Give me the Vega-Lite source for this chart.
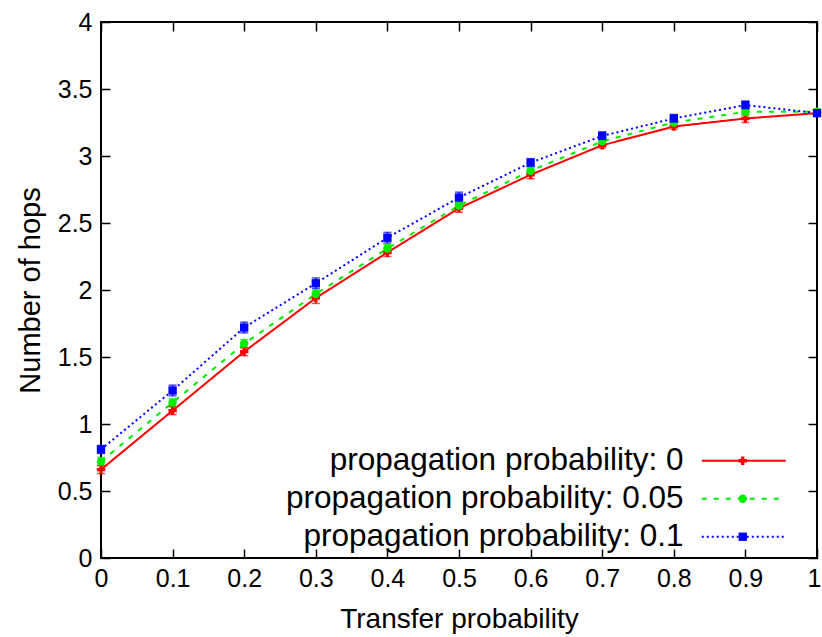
{
  "$schema": "https://vega.github.io/schema/vega-lite/v6.json",
  "width": 716,
  "height": 536,
  "autosize": {"type": "none"},
  "padding": {"left": 101, "top": 22, "right": 5, "bottom": 79},
  "config": {
    "view": {"stroke": "black", "strokeWidth": 2},
    "font": "Liberation Sans",
    "axis": {"grid": false, "domain": false, "tickColor": "black", "tickWidth": 1.5, "labelColor": "black", "titleColor": "black", "titleFontWeight": "normal"}
  },
  "data": {
    "values": [
      {"x": 0.0, "y": 0.66, "lo": 0.63, "hi": 0.69, "s": "propagation probability: 0"},
      {"x": 0.1, "y": 1.10, "lo": 1.07, "hi": 1.13, "s": "propagation probability: 0"},
      {"x": 0.2, "y": 1.54, "lo": 1.51, "hi": 1.57, "s": "propagation probability: 0"},
      {"x": 0.3, "y": 1.94, "lo": 1.90, "hi": 1.97, "s": "propagation probability: 0"},
      {"x": 0.4, "y": 2.28, "lo": 2.25, "hi": 2.31, "s": "propagation probability: 0"},
      {"x": 0.5, "y": 2.61, "lo": 2.58, "hi": 2.64, "s": "propagation probability: 0"},
      {"x": 0.6, "y": 2.86, "lo": 2.83, "hi": 2.89, "s": "propagation probability: 0"},
      {"x": 0.7, "y": 3.08, "lo": 3.06, "hi": 3.11, "s": "propagation probability: 0"},
      {"x": 0.8, "y": 3.22, "lo": 3.20, "hi": 3.25, "s": "propagation probability: 0"},
      {"x": 0.9, "y": 3.28, "lo": 3.25, "hi": 3.31, "s": "propagation probability: 0"},
      {"x": 1.0, "y": 3.32, "lo": 3.30, "hi": 3.34, "s": "propagation probability: 0"},
      {"x": 0.0, "y": 0.72, "lo": 0.69, "hi": 0.75, "s": "propagation probability: 0.05"},
      {"x": 0.1, "y": 1.16, "lo": 1.13, "hi": 1.19, "s": "propagation probability: 0.05"},
      {"x": 0.2, "y": 1.60, "lo": 1.57, "hi": 1.63, "s": "propagation probability: 0.05"},
      {"x": 0.3, "y": 1.97, "lo": 1.94, "hi": 2.00, "s": "propagation probability: 0.05"},
      {"x": 0.4, "y": 2.31, "lo": 2.28, "hi": 2.34, "s": "propagation probability: 0.05"},
      {"x": 0.5, "y": 2.63, "lo": 2.60, "hi": 2.66, "s": "propagation probability: 0.05"},
      {"x": 0.6, "y": 2.89, "lo": 2.86, "hi": 2.92, "s": "propagation probability: 0.05"},
      {"x": 0.7, "y": 3.11, "lo": 3.08, "hi": 3.14, "s": "propagation probability: 0.05"},
      {"x": 0.8, "y": 3.25, "lo": 3.22, "hi": 3.28, "s": "propagation probability: 0.05"},
      {"x": 0.9, "y": 3.33, "lo": 3.30, "hi": 3.36, "s": "propagation probability: 0.05"},
      {"x": 1.0, "y": 3.33, "lo": 3.31, "hi": 3.35, "s": "propagation probability: 0.05"},
      {"x": 0.0, "y": 0.81, "lo": 0.78, "hi": 0.84, "s": "propagation probability: 0.1"},
      {"x": 0.1, "y": 1.25, "lo": 1.21, "hi": 1.29, "s": "propagation probability: 0.1"},
      {"x": 0.2, "y": 1.72, "lo": 1.68, "hi": 1.76, "s": "propagation probability: 0.1"},
      {"x": 0.3, "y": 2.05, "lo": 2.01, "hi": 2.09, "s": "propagation probability: 0.1"},
      {"x": 0.4, "y": 2.39, "lo": 2.35, "hi": 2.43, "s": "propagation probability: 0.1"},
      {"x": 0.5, "y": 2.69, "lo": 2.65, "hi": 2.73, "s": "propagation probability: 0.1"},
      {"x": 0.6, "y": 2.95, "lo": 2.92, "hi": 2.98, "s": "propagation probability: 0.1"},
      {"x": 0.7, "y": 3.15, "lo": 3.12, "hi": 3.18, "s": "propagation probability: 0.1"},
      {"x": 0.8, "y": 3.28, "lo": 3.25, "hi": 3.31, "s": "propagation probability: 0.1"},
      {"x": 0.9, "y": 3.38, "lo": 3.35, "hi": 3.41, "s": "propagation probability: 0.1"},
      {"x": 1.0, "y": 3.32, "lo": 3.30, "hi": 3.34, "s": "propagation probability: 0.1"}
    ]
  },
  "layer": [
    {
      "mark": {"type": "line", "strokeWidth": 2},
      "encoding": {
        "x": {"field": "x", "type": "quantitative", "scale": {"domain": [0, 1], "nice": false, "zero": false},
          "axis": {"orient": "bottom", "values": [0, 0.1, 0.2, 0.3, 0.4, 0.5, 0.6, 0.7, 0.8, 0.9, 1], "format": "~g", "ticks": false, "labelPadding": 8, "labelFontSize": 25, "title": "Transfer probability", "titleFontSize": 28, "titlePadding": 14, "labelFlush": false,
            "labelOffset": {"condition": {"test": "datum.value == 1", "value": -3}, "value": 0}}},
        "y": {"field": "y", "type": "quantitative", "scale": {"domain": [0, 4], "nice": false},
          "axis": {"orient": "left", "values": [0, 0.5, 1, 1.5, 2, 2.5, 3, 3.5, 4], "format": "~g", "ticks": false, "labelPadding": 9, "labelFontSize": 25, "title": "Number of hops", "titleFontSize": 29, "titlePadding": 12, "labelFlush": false}},
        "color": {"field": "s", "type": "nominal",
          "scale": {"domain": ["propagation probability: 0", "propagation probability: 0.05", "propagation probability: 0.1"], "range": ["#ff0000", "#00ee00", "#0000ff"]},
          "legend": {"orient": "none", "legendX": 627, "legendY": 423, "padding": 0, "title": null, "labelFontSize": 31.5, "labelColor": "black", "labelAlign": "right", "labelOffset": -76, "labelLimit": 600, "symbolType": "M-4,0L4,0", "symbolSize": 441, "symbolStrokeWidth": 2, "rowPadding": 5}},
        "strokeDash": {"field": "s", "type": "nominal",
          "scale": {"domain": ["propagation probability: 0", "propagation probability: 0.05", "propagation probability: 0.1"], "range": [[1, 0], [5, 7], [2, 3]]},
          "legend": {"orient": "none", "legendX": 627, "legendY": 423, "padding": 0, "title": null, "labelFontSize": 31.5, "labelColor": "black", "labelAlign": "right", "labelOffset": -76, "labelLimit": 600, "symbolType": "M-4,0L4,0", "symbolSize": 441, "symbolStrokeWidth": 2, "rowPadding": 5}}
      }
    },
    {
      "mark": {"type": "errorbar", "ticks": {"size": 8}, "thickness": 1.5},
      "encoding": {
        "x": {"field": "x", "type": "quantitative",
          "axis": {"orient": "top", "offset": -536, "values": [0, 0.1, 0.2, 0.3, 0.4, 0.5, 0.6, 0.7, 0.8, 0.9, 1], "tickSize": 9, "labels": false, "title": null}},
        "y": {"field": "lo", "type": "quantitative",
          "axis": {"orient": "right", "offset": -716, "values": [0, 0.5, 1, 1.5, 2, 2.5, 3, 3.5, 4], "tickSize": 9, "labels": false, "title": null}},
        "y2": {"field": "hi"},
        "color": {"field": "s", "type": "nominal", "legend": null}
      }
    },
    {
      "mark": {"type": "point", "filled": true, "opacity": 1},
      "encoding": {
        "x": {"field": "x", "type": "quantitative",
          "axis": {"orient": "bottom", "offset": -536, "values": [0, 0.1, 0.2, 0.3, 0.4, 0.5, 0.6, 0.7, 0.8, 0.9, 1], "tickSize": 9, "labels": false, "title": null}},
        "y": {"field": "y", "type": "quantitative",
          "axis": {"orient": "left", "offset": -716, "values": [0, 0.5, 1, 1.5, 2, 2.5, 3, 3.5, 4], "tickSize": 9, "labels": false, "title": null}},
        "fill": {"field": "s", "type": "nominal",
          "scale": {"domain": ["propagation probability: 0", "propagation probability: 0.05", "propagation probability: 0.1"], "range": ["#ff0000", "#00ee00", "#0000ff"]},
          "legend": {"orient": "none", "legendX": 626, "legendY": 423, "padding": 0, "title": null, "labelFontSize": 31.5, "labelExpr": "' '", "labelOpacity": 0, "labelAlign": "right", "labelOffset": -70, "labelLimit": 600, "symbolSize": 70, "symbolOpacity": 1, "symbolStrokeWidth": 0, "rowPadding": 5}},
        "shape": {"field": "s", "type": "nominal",
          "scale": {"domain": ["propagation probability: 0", "propagation probability: 0.05", "propagation probability: 0.1"], "range": ["cross", "circle", "square"]},
          "legend": {"orient": "none", "legendX": 626, "legendY": 423, "padding": 0, "title": null, "labelFontSize": 31.5, "labelExpr": "' '", "labelOpacity": 0, "labelAlign": "right", "labelOffset": -70, "labelLimit": 600, "symbolSize": 70, "symbolOpacity": 1, "symbolStrokeWidth": 0, "rowPadding": 5}},
        "size": {"value": 70}
      }
    }
  ],
  "resolve": {"axis": {"x": "independent", "y": "independent"}, "scale": {"fill": "independent", "shape": "independent"}}
}
